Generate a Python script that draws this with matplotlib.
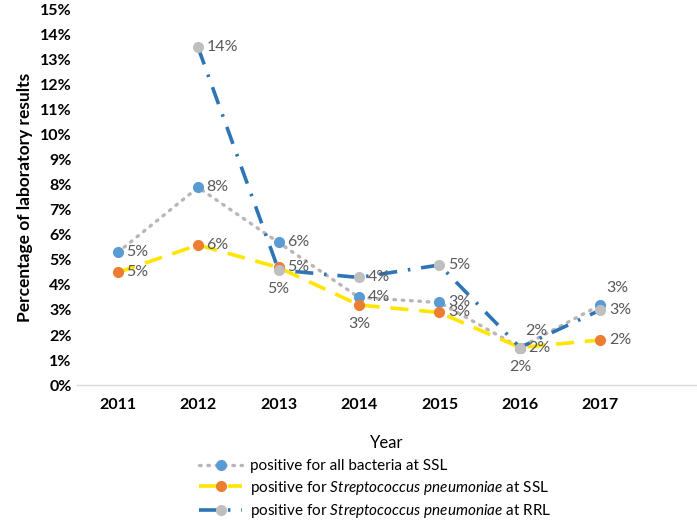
import numpy as np
import matplotlib.pyplot as plt
from matplotlib.lines import Line2D

plt.rcParams['font.family'] = ['Lato', 'DejaVu Sans']
plt.rcParams['mathtext.fontset'] = 'custom'
plt.rcParams['mathtext.it'] = 'Lato:italic'
plt.rcParams['mathtext.rm'] = 'Lato'

# data
years = ['2011', '2012', '2013', '2014', '2015', '2016', '2017']
all_ssl = [5.3, 7.9, 5.7, 3.5, 3.3, 1.5, 3.2]
pneu_ssl = [4.5, 5.6, 4.7, 3.2, 2.9, 1.5, 1.8]
pneu_rrl = [np.nan, 13.5, 4.6, 4.3, 4.8, 1.5, 3.0]
yticks = list(range(0, 16))

# label placement per point: r = right, b = below, a = above
pos_all = ['r', 'r', 'r', 'r', 'r', 'a', 'a']
pos_ssl = ['r', 'r', 'r', 'b', 'r', 'r', 'r']
pos_rrl = ['r', 'r', 'b', 'r', 'r', 'b', 'r']

x = np.arange(len(years))
lbl_col = '#595959'

fig = plt.figure(figsize=(6.97, 5.21), dpi=100)
ax = fig.add_axes([0.111, 0.261, 0.889, 0.72])

ax.plot(x, all_ssl, color='#bdb5b5', lw=2.4, linestyle=(0, (0.5, 2.0)),
        dash_capstyle='round', marker='o', ms=7, mfc='#5b9bd5', mec='#5b9bd5', zorder=3)
ax.plot(x, pneu_ssl, color='#ffe500', lw=2.6, linestyle=(0, (5, 3)),
        marker='o', ms=7, mfc='#ed7d31', mec='#ed7d31', zorder=4)
ax.plot(x, pneu_rrl, color='#2e75b6', lw=2.6, linestyle=(0, (5, 3, 0.7, 3)),
        marker='o', ms=7, mfc='#bfbfbf', mec='#bfbfbf', zorder=5)

offs = {'r': (6, 0, 'left', 'center'), 'b': (0, -9, 'center', 'top'),
        'a': (4, 7, 'left', 'bottom')}

def add_labels(vals, pos):
    for xi, v, p in zip(x, vals, pos):
        if np.isnan(v):
            continue
        dx, dy, ha, va = offs[p]
        ax.annotate(f'{int(v + 0.5)}%', (xi, v), xytext=(dx, dy), textcoords='offset points',
                    ha=ha, va=va, fontsize=11.5, color=lbl_col, zorder=6)

add_labels(all_ssl, pos_all)
add_labels(pneu_ssl, pos_ssl)
add_labels(pneu_rrl, pos_rrl)

ax.set_xlim(-0.5, 7.2)
ax.set_ylim(0, 15)
ax.set_yticks(yticks)
ax.set_yticklabels([f'{t}%' for t in yticks], fontweight='bold', fontsize=11.5)
ax.set_xticks(x)
ax.set_xticklabels(years, fontweight='bold', fontsize=11.5)
ax.tick_params(length=0, pad=9)
ax.tick_params(axis='y', pad=4)
for s in ['top', 'right', 'left']:
    ax.spines[s].set_visible(False)
ax.spines['bottom'].set_color('#d9d9d9')
ax.spines['bottom'].set_linewidth(1)

ax.set_ylabel('Percentage of laboratory results', fontweight='bold', fontsize=12.5, labelpad=5)
ax.set_xlabel('Year', fontsize=12, labelpad=17)

handles = [
    Line2D([], [], color='#bdb5b5', lw=2.4, linestyle=(0, (0.5, 2.0)), dash_capstyle='round',
           marker='o', ms=7, mfc='#5b9bd5', mec='#5b9bd5'),
    Line2D([], [], color='#ffe500', lw=2.6, linestyle=(0, (5, 3)),
           marker='o', ms=7, mfc='#ed7d31', mec='#ed7d31'),
    Line2D([], [], color='#2e75b6', lw=2.6, linestyle=(0, (5, 3, 0.7, 3)),
           marker='o', ms=7, mfc='#bfbfbf', mec='#bfbfbf'),
]
labels = [
    'positive for all bacteria at SSL',
    r'positive for $\mathit{Streptococcus\ pneumoniae}$ at SSL',
    r'positive for $\mathit{Streptococcus\ pneumoniae}$ at RRL',
]
fig.legend(handles, labels, loc='upper left', bbox_to_anchor=(0.275, 0.133),
           frameon=False, fontsize=11, handlelength=2.8, handletextpad=0.5,
           labelspacing=0.35, borderpad=0)

fig.savefig('out.png', dpi=100)
